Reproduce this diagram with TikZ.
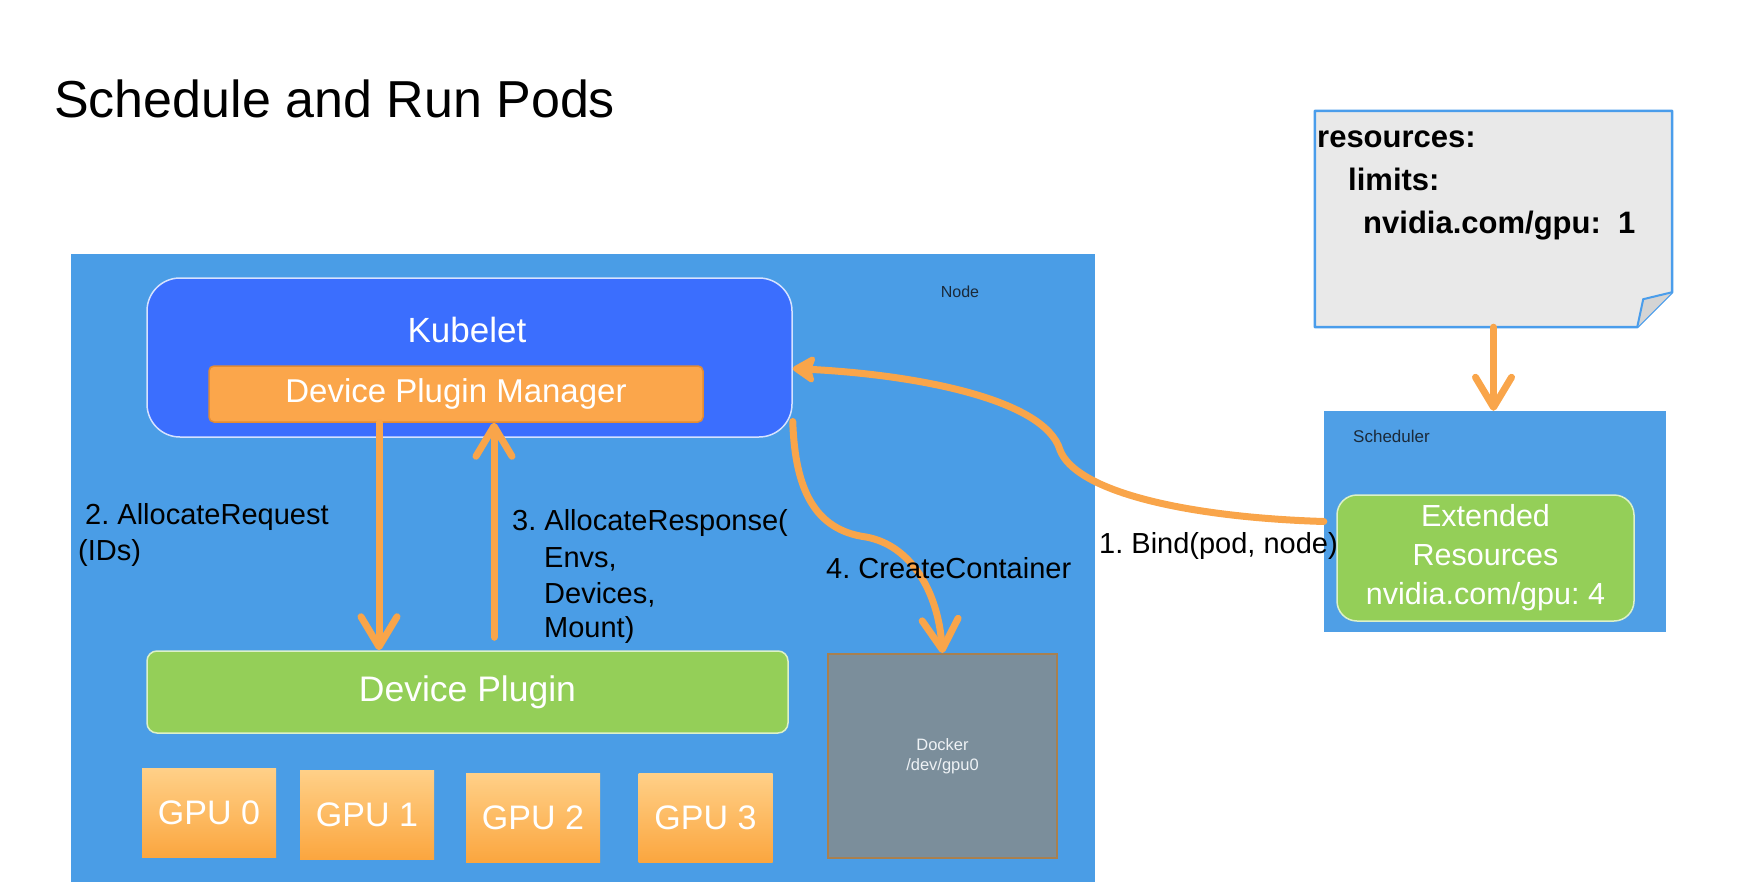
\documentclass[tikz,border=0pt]{standalone}
\usepackage{fontspec}
\setmainfont{Liberation Sans}
\usetikzlibrary{arrows.meta}
\frenchspacing

\definecolor{nodeblue}{HTML}{4A9DE6}
\definecolor{schedblue}{HTML}{4F9FE6}
\definecolor{kubblue}{HTML}{3B6EFE}
\definecolor{kubedge}{HTML}{D6E2FF}
\definecolor{flow}{HTML}{F9A54A}
\definecolor{dpmorange}{HTML}{FBA64B}
\definecolor{dpmedge}{HTML}{E38B33}
\definecolor{plugingreen}{HTML}{94CF58}
\definecolor{greenedge}{HTML}{DDF1C8}
\definecolor{gputop}{HTML}{FFD088}
\definecolor{gpubot}{HTML}{FBA63F}
\definecolor{dockergray}{HTML}{7B8E9B}
\definecolor{dockeredge}{HTML}{A8804F}
\definecolor{dockertxt}{HTML}{EEF2F5}
\definecolor{labelnavy}{HTML}{1B2A3A}
\definecolor{notefill}{HTML}{E9E9E9}
\definecolor{noteedge}{HTML}{4A9DEB}
\definecolor{foldfill}{HTML}{D4D4D4}

\begin{document}
\begin{tikzpicture}[x=1pt,y=-1pt,
    every node/.style={inner sep=0pt},
    flow/.style={draw=flow, line width=7pt, line cap=round,
      -{Straight Barb[length=30pt,width=36pt,round]}},
    labeltxt/.style={anchor=base west, font=\fontsize{29}{36}\selectfont},
    notetxt/.style={anchor=base west, font=\bfseries\fontsize{31}{37}\selectfont},
    gpubox/.style={top color=gputop, bottom color=gpubot, minimum width=134pt,
      minimum height=89pt, text=white, font=\fontsize{34}{40}\selectfont}]

  \useasboundingbox (0,0) rectangle (1742,888);

  \node[anchor=base west, font=\fontsize{52}{62}\selectfont] (title) at (54,118) {Schedule and Run Pods};

  % node with kubelet, plugin, gpus, docker
  \node[fill=nodeblue, minimum width=1024pt, minimum height=628pt] (node) at (583,568) {};
  \node[anchor=base, text=labelnavy, font=\fontsize{16}{19}\selectfont] (nodetxt) at (960,297) {Node};

  \node[fill=kubblue, draw=kubedge, line width=1.5pt, rounded corners=33pt,
        minimum width=645pt, minimum height=159pt] (kubelet) at (469.5,357.5) {};
  \node[anchor=base, text=white, font=\fontsize{35}{42}\selectfont] (kubtxt) at (467,342) {Kubelet};
  \node[fill=dpmorange, draw=dpmedge, line width=1.5pt, rounded corners=5pt,
        minimum width=494pt, minimum height=56pt, text=white,
        font=\fontsize{33}{40}\selectfont] (dpm) at (456,394) {Device Plugin Manager};

  \node[fill=plugingreen, draw=greenedge, line width=1.5pt, rounded corners=10pt,
        minimum width=641pt, minimum height=82pt, text=white,
        font=\fontsize{35.5}{42}\selectfont] (deviceplugin) at (467.5,692) {Device Plugin};

  \node[gpubox] (gpu0) at (209,813) {GPU 0};
  \node[gpubox] (gpu1) at (367,814.5) {GPU 1};
  \node[gpubox] (gpu2) at (533,817.5) {GPU 2};
  \node[gpubox] (gpu3) at (705.5,817.5) {GPU 3};

  \node[fill=dockergray, draw=dockeredge, line width=2pt, minimum width=229pt,
        minimum height=204pt, align=center, text=dockertxt,
        font=\fontsize{16.5}{20}\selectfont] (docker) at (942.5,756) {Docker\\/dev/gpu0};

  % pod spec note
  \node[minimum width=357pt, minimum height=216pt] (note) at (1493.5,219) {};
  \draw[fill=notefill, draw=noteedge, line width=2.5pt, line join=round]
    (note.north west) -- (note.north east) -- ([yshift=35pt]note.south east)
    -- ([xshift=-35pt]note.south east) -- (note.south west) -- cycle;
  \draw[fill=foldfill, draw=noteedge, line width=2pt, line join=round]
    ([yshift=35pt]note.south east) -- ([xshift=-29pt,yshift=28pt]note.south east)
    -- ([xshift=-35pt]note.south east);
  \node[notetxt] (restxt) at (1317,147) {resources:};
  \node[notetxt] (limtxt) at (1348,190) {limits:};
  \node[notetxt] (gputxt) at (1363,233) {nvidia.com/gpu:\ \ 1};

  % scheduler
  \node[fill=schedblue, minimum width=342pt, minimum height=221pt] (scheduler) at (1495,521.5) {};
  \node[anchor=base west, text=labelnavy, font=\fontsize{17}{20}\selectfont] (schedtxt) at (1353,442) {Scheduler};
  \node[fill=plugingreen, draw=greenedge, line width=1.5pt, rounded corners=20pt,
        minimum width=297pt, minimum height=126pt, align=center, text=white,
        font=\fontsize{30.5}{39}\selectfont] (extended) at (1485.5,558) {Extended\\Resources\\nvidia.com/gpu: 4};

  % arrows
  \coordinate (req) at ([xshift=-77pt]dpm.south);
  \coordinate (resp) at ([xshift=38pt]dpm.south);
  \draw[flow] (req) -- (req |- deviceplugin.north);
  \draw[flow] ([yshift=13pt]resp |- deviceplugin.north) -- (resp);
  \draw[flow] (note.south) -- (note.south |- scheduler.north);
  \draw[draw=flow, line width=7pt, line cap=round,
        -{Stealth[length=26pt,width=32pt,inset=5pt,round]}]
    (scheduler.west) .. controls (1180,517) and (1075,490) .. (1060,450)
    .. controls (1045,400) and (920,375) .. ([yshift=-11pt]kubelet.east);
  \draw[flow] ([yshift=-64pt]kubelet.east) .. controls (795,490) and (815,530) .. (866,537)
    .. controls (910,545) and (938,590) .. (docker.north);

  \node[labeltxt] (reqtxt) at (85,524) {2. AllocateRequest};
  \node[labeltxt] (idstxt) at (78,560) {(IDs)};
  \node[labeltxt] (resptxt) at (512,530) {3. AllocateResponse(};
  \node[labeltxt] (envtxt) at (544,567) {Envs,};
  \node[labeltxt] (devtxt) at (544,603) {Devices,};
  \node[labeltxt] (mnttxt) at (544,637) {Mount)};
  \node[labeltxt] (createtxt) at (826,578) {4. CreateContainer};
  \node[labeltxt] (bindtxt) at (1099,553) {1. Bind(pod, node)};
\end{tikzpicture}
\end{document}
